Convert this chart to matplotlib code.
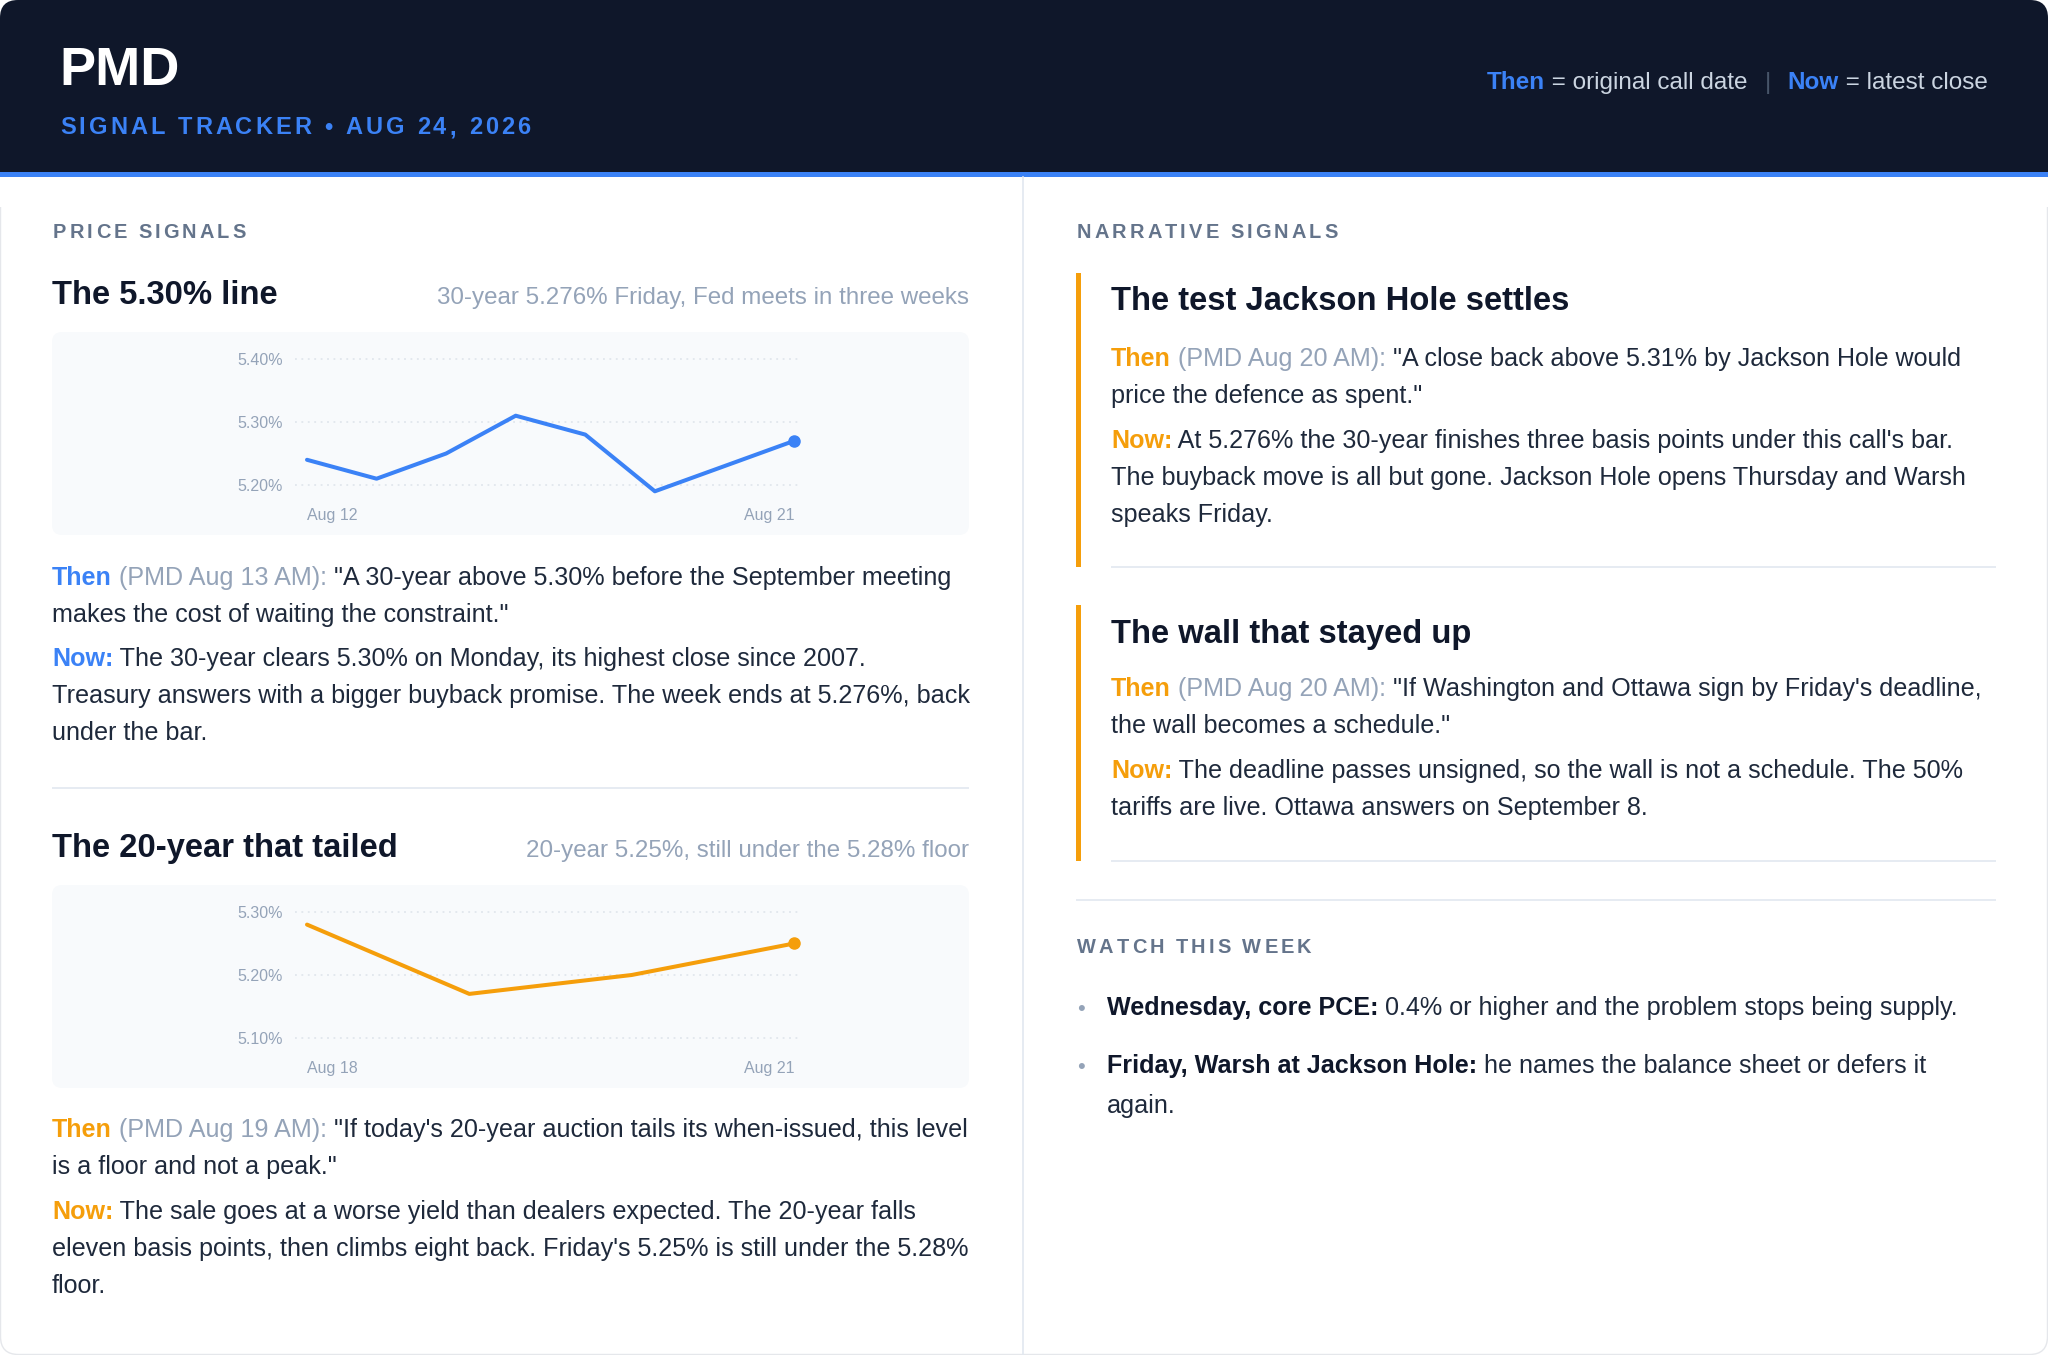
import numpy as np
import matplotlib
matplotlib.use("Agg")
import matplotlib.pyplot as plt
from matplotlib.patches import FancyBboxPatch, Rectangle
from matplotlib.font_manager import FontProperties, findfont
from matplotlib.ft2font import FT2Font
from matplotlib.transforms import blended_transform_factory

try:
    from matplotlib.ft2font import LoadFlags, Kerning
    NO_HINT = LoadFlags.NO_HINTING
    KERN = Kerning.DEFAULT
except Exception:
    NO_HINT = 2
    KERN = 0

# ---------------- data ----------------
t30_dates = ["2026-08-12", "2026-08-13", "2026-08-14", "2026-08-17",
             "2026-08-18", "2026-08-19", "2026-08-21"]
t30_yield = [5.24, 5.21, 5.25, 5.31, 5.28, 5.19, 5.27]
t30_ticks = [5.20, 5.30, 5.40]
t30_labels = ["Aug 12", "Aug 21"]

t20_dates = ["2026-08-18", "2026-08-19", "2026-08-20", "2026-08-21"]
t20_yield = [5.28, 5.17, 5.20, 5.25]
t20_ticks = [5.10, 5.20, 5.30]
t20_labels = ["Aug 18", "Aug 21"]

# ---------------- style ----------------
FAM = ["Liberation Sans", "DejaVu Sans"]
plt.rcParams["font.family"] = FAM
NAVY = "#0f172a"
BLUE = "#3b82f6"
ORANGE = "#f59e0b"
BODY = "#1e293b"
MUTED = "#94a3b8"
LABEL = "#64748b"
RULE = "#e2e8f0"
PANEL = "#f8fafc"
HDR_TXT = "#cbd5e1"

W, H = 2048, 1355
fig = plt.figure(figsize=(W / 100, H / 100), dpi=100, facecolor="white")
bg = fig.add_axes([0, 0, 1, 1])
bg.set_xlim(0, W)
bg.set_ylim(H, 0)
bg.axis("off")

_fonts = {}


def _ft(bold):
    if bold not in _fonts:
        fp = FontProperties(family=FAM[0], weight="bold" if bold else "normal")
        _fonts[bold] = FT2Font(findfont(fp))
    return _fonts[bold]


def tw(s, size, bold=False):
    f = _ft(bold)
    f.set_size(size, 100)
    w = 0.0
    prev = None
    for ch in s:
        gi = f.get_char_index(ord(ch))
        if prev is not None:
            try:
                w += f.get_kerning(prev, gi, KERN) / 64
            except Exception:
                pass
        g = f.load_glyph(gi, flags=NO_HINT)
        w += g.linearHoriAdvance / 65536
        prev = gi
    return w


def put(x, y, s, size, color, bold=False, ha="left", z=3):
    bg.text(x, y, s, fontsize=size, color=color,
            fontweight="bold" if bold else "normal",
            ha=ha, va="baseline", zorder=z)


def rich(x, y, segs, size, ha="left"):
    def seg_w(sg):
        if isinstance(sg, (int, float)):
            return sg
        return tw(sg[0], size, sg[2])
    total = sum(seg_w(sg) for sg in segs)
    if ha == "right":
        x -= total
    for sg in segs:
        if not isinstance(sg, (int, float)):
            put(x, y, sg[0], size, sg[1], sg[2])
        x += seg_w(sg)


def spaced(x, y, s, size, color, spacing, bold=True):
    for ch in s:
        if ch != " ":
            put(x, y, ch, size, color, bold)
        x += tw(ch, size, bold) + spacing


def para(x, y0, lines, size=18.1, lh=37):
    for i, ln in enumerate(lines):
        if isinstance(ln, str):
            ln = [(ln, BODY, False)]
        rich(x, y0 + i * lh, ln, size)


def hline(x0, x1, y, color=RULE, lw=1.2):
    bg.plot([x0, x1], [y, y], color=color, lw=lw, zorder=2, solid_capstyle="butt")


# ---------------- card & header ----------------
bg.add_patch(FancyBboxPatch((0.5, 0.5), W - 1, H - 1,
                            boxstyle="round,pad=0,rounding_size=18",
                            fc="white", ec="#e5e7eb", lw=1, zorder=0))
bg.add_patch(FancyBboxPatch((0, 0), W, 200,
                            boxstyle="round,pad=0,rounding_size=18",
                            fc=NAVY, ec="none", zorder=1))
bg.add_patch(Rectangle((0, 172), W, 5, fc=BLUE, ec="none", zorder=1.2))
bg.add_patch(Rectangle((0, 177), W, 30, fc="white", ec="none", zorder=1.1))

put(59, 85, "PMD", 39, "white", bold=True)
spaced(60, 134, "SIGNAL TRACKER \u2022 AUG 24, 2026", 17, BLUE, 3.1)
rich(1988, 89, [("Then", BLUE, True), (" = original call date", HDR_TXT, False), 17,
                ("|", "#475569", False), 17,
                ("Now", BLUE, True), (" = latest close", HDR_TXT, False)],
     17.5, ha="right")

# column divider
bg.plot([1023, 1023], [177, H], color=RULE, lw=1.2, zorder=2)

# ---------------- charts ----------------
def chart(panel, ay, tick_px, xlab_px, dates, vals, ticks, labels, color):
    x0, y0, x1, y1 = panel
    bg.add_patch(FancyBboxPatch((x0, y0), x1 - x0, y1 - y0,
                                boxstyle="round,pad=0,rounding_size=10",
                                fc=PANEL, ec="none", zorder=1))
    gx0, px0, px1, gx1 = 295, 307, 794, 800
    xs = np.busday_count(dates[0], dates)
    span = xs[-1] - xs[0]
    sx = (px1 - px0) / span
    ay0, ay1 = ay
    ax = fig.add_axes([gx0 / W, 1 - ay1 / H, (gx1 - gx0) / W, (ay1 - ay0) / H])
    ax.set_facecolor("none")
    ax.set_xlim(xs[0] - (px0 - gx0) / sx, xs[-1] + (gx1 - px1) / sx)
    top_px, bot_px = tick_px  # pixel rows of the highest and lowest tick
    sy = (bot_px - top_px) / (ticks[-1] - ticks[0])
    ax.set_ylim(ticks[0] - (ay1 - bot_px) / sy, ticks[-1] + (top_px - ay0) / sy)
    ax.plot(xs, vals, color=color, lw=2.9, solid_joinstyle="round",
            solid_capstyle="round", clip_on=False, zorder=3)
    ax.plot(xs[-1], vals[-1], "o", ms=8, color=color, clip_on=False, zorder=4)
    ax.set_yticks(ticks, labels=[f"{t:.2f}%" for t in ticks])
    ax.set_xticks([])
    ax.tick_params(axis="y", length=0, pad=12 * 0.72, labelsize=11.5,
                   labelcolor=MUTED)
    ax.grid(axis="y", color="#dde3ea", lw=1.1, ls=(0, (1.2, 3)))
    ax.set_axisbelow(True)
    for s in ax.spines.values():
        s.set_visible(False)
    tr = blended_transform_factory(ax.transData, ax.transAxes)
    fy = (ay1 - xlab_px) / (ay1 - ay0)
    ax.text(xs[0], fy, labels[0], transform=tr, ha="left", va="baseline",
            fontsize=11.5, color=MUTED, clip_on=False)
    ax.text(xs[-1], fy, labels[-1], transform=tr, ha="right", va="baseline",
            fontsize=11.5, color=MUTED, clip_on=False)
    return ax


# ---------------- left column ----------------
spaced(53, 238, "PRICE SIGNALS", 14.4, LABEL, 3.1)

put(52, 304, "The 5.30% line", 23.6, NAVY, bold=True)
put(969, 304, "30-year 5.276% Friday, Fed meets in three weeks", 17.4, MUTED, ha="right")
chart((52, 332, 969, 535), (340, 505), (359, 485), 520,
      t30_dates, t30_yield, t30_ticks, t30_labels, BLUE)

para(52, 585, [
    [("Then", BLUE, True), (" (PMD Aug 13 AM): ", MUTED, False),
     ("\"A 30-year above 5.30% before the September meeting", BODY, False)],
    "makes the cost of waiting the constraint.\"",
])
para(52, 666, [
    [("Now:", BLUE, True),
     (" The 30-year clears 5.30% on Monday, its highest close since 2007.", BODY, False)],
    "Treasury answers with a bigger buyback promise. The week ends at 5.276%, back",
    "under the bar.",
])
hline(52, 969, 788)

put(52, 857, "The 20-year that tailed", 23.6, NAVY, bold=True)
put(969, 857, "20-year 5.25%, still under the 5.28% floor", 17.4, MUTED, ha="right")
chart((52, 885, 969, 1088), (893, 1058), (912, 1038), 1073,
      t20_dates, t20_yield, t20_ticks, t20_labels, ORANGE)

para(52, 1137, [
    [("Then", ORANGE, True), (" (PMD Aug 19 AM): ", MUTED, False),
     ("\"If today's 20-year auction tails its when-issued, this level", BODY, False)],
    "is a floor and not a peak.\"",
])
para(52, 1219, [
    [("Now:", ORANGE, True),
     (" The sale goes at a worse yield than dealers expected. The 20-year falls", BODY, False)],
    "eleven basis points, then climbs eight back. Friday's 5.25% is still under the 5.28%",
    "floor.",
])

# ---------------- right column ----------------
spaced(1077, 238, "NARRATIVE SIGNALS", 14.4, LABEL, 3.1)

bg.add_patch(Rectangle((1076, 273), 5, 294, fc=ORANGE, ec="none", zorder=2))
put(1111, 310, "The test Jackson Hole settles", 23.6, NAVY, bold=True)
para(1111, 366, [
    [("Then", ORANGE, True), (" (PMD Aug 20 AM): ", MUTED, False),
     ("\"A close back above 5.31% by Jackson Hole would", BODY, False)],
    "price the defence as spent.\"",
])
para(1111, 448, [
    [("Now:", ORANGE, True),
     (" At 5.276% the 30-year finishes three basis points under this call's bar.", BODY, False)],
    "The buyback move is all but gone. Jackson Hole opens Thursday and Warsh",
    "speaks Friday.",
])
hline(1111, 1996, 567)

bg.add_patch(Rectangle((1076, 605), 5, 256, fc=ORANGE, ec="none", zorder=2))
put(1111, 643, "The wall that stayed up", 23.6, NAVY, bold=True)
para(1111, 696, [
    [("Then", ORANGE, True), (" (PMD Aug 20 AM): ", MUTED, False),
     ("\"If Washington and Ottawa sign by Friday's deadline,", BODY, False)],
    "the wall becomes a schedule.\"",
])
para(1111, 778, [
    [("Now:", ORANGE, True),
     (" The deadline passes unsigned, so the wall is not a schedule. The 50%", BODY, False)],
    "tariffs are live. Ottawa answers on September 8.",
])
hline(1111, 1996, 861)

hline(1076, 1996, 900)
spaced(1077, 953, "WATCH THIS WEEK", 14.4, LABEL, 3.1)

put(1081, 1015, "\u2022", 16, MUTED, ha="center")
rich(1107, 1015, [("Wednesday, core PCE:", NAVY, True),
                  (" 0.4% or higher and the problem stops being supply.", BODY, False)], 18.1)
put(1081, 1073, "\u2022", 16, MUTED, ha="center")
para(1107, 1073, [
    [("Friday, Warsh at Jackson Hole:", NAVY, True),
     (" he names the balance sheet or defers it", BODY, False)],
    "again.",
], lh=40)

fig.savefig("out.png", dpi=100, facecolor="white")
